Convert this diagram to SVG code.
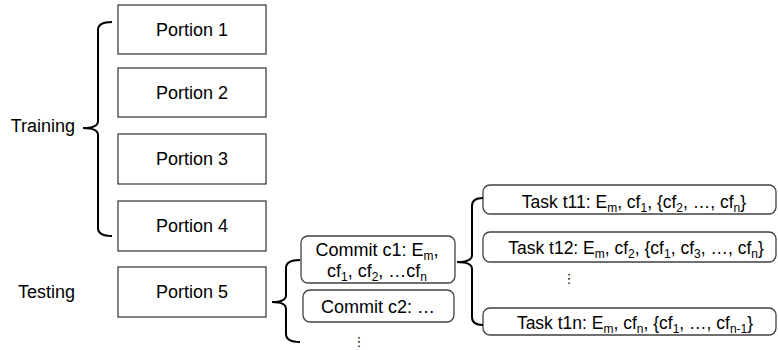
<svg xmlns="http://www.w3.org/2000/svg" width="778" height="350" viewBox="0 0 778 350">
<style>
  text { font-family: "Liberation Sans", Arial, sans-serif; fill: #000; }
  .lbl { font-size: 18px; }
  .task { font-size: 17.5px; }
  .sub { font-size: 12px; }
  .box { fill: #fff; stroke: #404040; stroke-width: 1.3; }
  .rbox { fill: #fff; stroke: #404040; stroke-width: 1.3; }
  .brace { fill: none; stroke: #000; stroke-width: 2; }
  .dots { font-family: "DejaVu Sans", sans-serif; font-size: 13px; }
</style>
<rect width="778" height="350" fill="#fff"/>

<g id="label-training"><text class="lbl" x="75" y="132" text-anchor="end">Training</text></g>
<g id="label-testing"><text class="lbl" x="75" y="298" text-anchor="end">Testing</text></g>

<g id="portion1"><rect class="box" x="118" y="5" width="148" height="49"/><text class="lbl" x="192" y="36" text-anchor="middle">Portion 1</text></g>
<g id="portion2"><rect class="box" x="118" y="68" width="148" height="49"/><text class="lbl" x="192" y="99" text-anchor="middle">Portion 2</text></g>
<g id="portion3"><rect class="box" x="118" y="134" width="148" height="50"/><text class="lbl" x="192" y="165" text-anchor="middle">Portion 3</text></g>
<g id="portion4"><rect class="box" x="118" y="201" width="148" height="50"/><text class="lbl" x="192" y="232" text-anchor="middle">Portion 4</text></g>
<g id="portion5"><rect class="box" x="118" y="267" width="148" height="50"/><text class="lbl" x="192" y="298" text-anchor="middle">Portion 5</text></g>

<g id="commit1"><rect class="rbox" x="301" y="236" width="154" height="47" rx="7"/>
  <text class="lbl" x="377" y="256" text-anchor="middle">Commit c1: E<tspan class="sub" dy="4">m</tspan><tspan dy="-4">,</tspan></text>
  <text class="lbl" x="377" y="277" text-anchor="middle">cf<tspan class="sub" dy="4">1</tspan><tspan dy="-4">, cf</tspan><tspan class="sub" dy="4">2</tspan><tspan dy="-4">, …cf</tspan><tspan class="sub" dy="4">n</tspan></text>
</g>
<g id="commit2"><rect class="rbox" x="303" y="290" width="151" height="32" rx="7"/>
  <text class="lbl" x="378" y="313" text-anchor="middle">Commit c2: …</text>
</g>
<g id="commit-more"><text class="dots" x="359" y="346" text-anchor="middle">⋮</text></g>

<g id="task11"><rect class="rbox" x="483" y="185" width="293" height="29" rx="7"/>
  <text class="task" x="634" y="208" text-anchor="middle">Task t11: E<tspan class="sub" dy="4">m</tspan><tspan dy="-4">, cf</tspan><tspan class="sub" dy="4">1</tspan><tspan dy="-4">, {cf</tspan><tspan class="sub" dy="4">2</tspan><tspan dy="-4">, …, cf</tspan><tspan class="sub" dy="4">n</tspan><tspan dy="-4">}</tspan></text>
</g>
<g id="task12"><rect class="rbox" x="483" y="232" width="293" height="30" rx="7"/>
  <text class="task" x="636" y="254" text-anchor="middle">Task t12: E<tspan class="sub" dy="4">m</tspan><tspan dy="-4">, cf</tspan><tspan class="sub" dy="4">2</tspan><tspan dy="-4">, {cf</tspan><tspan class="sub" dy="4">1</tspan><tspan dy="-4">, cf</tspan><tspan class="sub" dy="4">3</tspan><tspan dy="-4">, …, cf</tspan><tspan class="sub" dy="4">n</tspan><tspan dy="-4">}</tspan></text>
</g>
<g id="task-more"><text class="dots" x="569" y="283" text-anchor="middle">⋮</text></g>
<g id="task1n"><rect class="rbox" x="483" y="308" width="293" height="27" rx="7"/>
  <text class="task" x="635" y="329" text-anchor="middle">Task t1n: E<tspan class="sub" dy="4">m</tspan><tspan dy="-4">, cf</tspan><tspan class="sub" dy="4">n</tspan><tspan dy="-4">, {cf</tspan><tspan class="sub" dy="4">1</tspan><tspan dy="-4">, …, cf</tspan><tspan class="sub" dy="4">n-1</tspan><tspan dy="-4">}</tspan></text>
</g>

<g id="connectors">
  <path class="brace" d="M112,22 Q98,22 98,30 L98,121 Q98,128 83,128 Q98,128 98,135 L98,228 Q98,236 112,236"/>
  <path class="brace" d="M300,260 Q286,260 286,268 L286,295 Q286,302 272,302 Q286,302 286,309 L286,334 Q286,342 300,342"/>
  <path class="brace" d="M483,198 Q472,198 472,206 L472,255 Q472,262 457,262 Q472,262 472,269 L472,317 Q472,325 483,325"/>
</g>
</svg>
